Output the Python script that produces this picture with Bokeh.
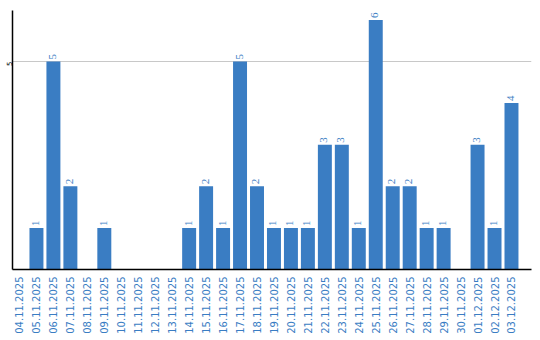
import math
from bokeh.plotting import figure
from bokeh.models import ColumnDataSource, Range1d, FixedTicker, LabelSet
from bokeh.embed import file_html
from bokeh.resources import INLINE

dates = ["04.11.2025", "05.11.2025", "06.11.2025", "07.11.2025", "08.11.2025",
         "09.11.2025", "10.11.2025", "11.11.2025", "12.11.2025", "13.11.2025",
         "14.11.2025", "15.11.2025", "16.11.2025", "17.11.2025", "18.11.2025",
         "19.11.2025", "20.11.2025", "21.11.2025", "22.11.2025", "23.11.2025",
         "24.11.2025", "25.11.2025", "26.11.2025", "27.11.2025", "28.11.2025",
         "29.11.2025", "30.11.2025", "01.12.2025", "02.12.2025", "03.12.2025"]
counts = [0, 1, 5, 2, 0, 1, 0, 0, 0, 0, 1, 2, 1, 5, 2, 1, 1, 1, 3, 3, 1, 6, 2, 2, 1, 1, 0, 3, 1, 4]

BLUE = "#3a7dc3"
idx = list(range(len(dates)))
src = ColumnDataSource(dict(x=idx, y=counts))
lab_idx = [i for i, c in zip(idx, counts) if c > 0]
lab_src = ColumnDataSource(dict(x=lab_idx, y=[counts[i] for i in lab_idx],
                                t=[str(counts[i]) for i in lab_idx]))

p = figure(width=540, height=340, output_backend="svg", toolbar_location=None,
           x_range=Range1d(-0.412, 30.18), y_range=Range1d(0, 6.226),
           min_border_left=11, min_border_top=10, min_border_right=9, min_border_bottom=71)
p.outline_line_color = None
p.background_fill_color = "white"
p.border_fill_color = "white"

p.vbar(x="x", top="y", width=14/17, source=src, fill_color=BLUE, line_color=None)

labels = LabelSet(x="x", y="y", text="t", source=lab_src, angle=math.pi/2,
                  text_align="left", text_baseline="middle", y_offset=2, x_offset=-1,
                  text_color=BLUE, text_font_size="11px", text_font="DejaVu Sans")
p.add_layout(labels)

p.xgrid.grid_line_color = None
p.ygrid.ticker = FixedTicker(ticks=[5])
p.ygrid.grid_line_color = "#c8c8c8"
p.ygrid.grid_line_width = 1

p.xaxis.ticker = FixedTicker(ticks=idx)
p.xaxis.major_label_overrides = {i: d for i, d in zip(idx, dates)}
p.xaxis.major_label_orientation = math.pi/2
p.xaxis.major_label_text_color = BLUE
p.xaxis.major_label_text_font = "DejaVu Sans"
p.xaxis.major_label_text_font_size = "10px"
p.xaxis.major_tick_line_color = None
p.xaxis.minor_tick_line_color = None
p.xaxis.major_tick_out = 0
p.xaxis.major_label_standoff = 7
p.xaxis.axis_line_color = "black"
p.xaxis.axis_line_width = 1.5

p.yaxis.ticker = FixedTicker(ticks=[5])
p.yaxis.major_label_orientation = math.pi/2
p.yaxis.major_label_text_color = "black"
p.yaxis.major_label_text_font = "DejaVu Sans"
p.yaxis.major_label_text_font_size = "7px"
p.yaxis.major_tick_line_color = None
p.yaxis.minor_tick_line_color = None
p.yaxis.major_tick_out = 0
p.yaxis.major_label_standoff = 3
p.yaxis.axis_line_color = "black"
p.yaxis.axis_line_width = 1.5

open("out.html", "w").write(file_html(p, INLINE))
